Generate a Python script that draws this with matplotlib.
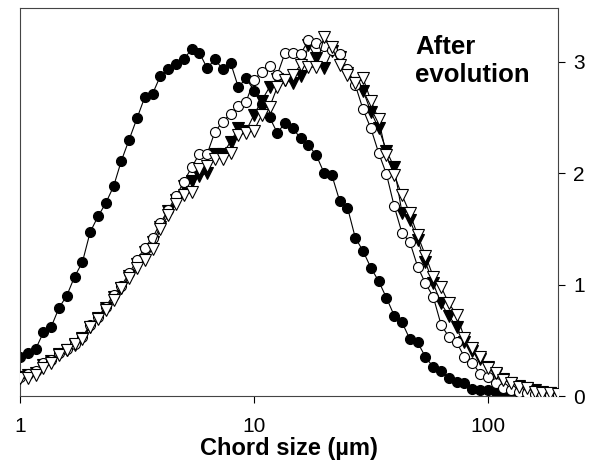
import numpy as np
import matplotlib
matplotlib.use("Agg")
import matplotlib.pyplot as plt

plt.rcParams['font.family'] = ['Liberation Sans', 'DejaVu Sans']

# chord size channels: 30 per decade starting at 1 um
chord_size = 10 ** (np.arange(70) / 30.0)

before_filled_circles = [
    0.35, 0.39, 0.42, 0.57, 0.62, 0.79, 0.90, 1.07, 1.20, 1.47,
    1.61, 1.73, 1.88, 2.11, 2.30, 2.49, 2.68, 2.71, 2.87, 2.93,
    2.98, 3.02, 3.11, 3.08, 2.94, 3.02, 2.93, 2.99, 2.77, 2.85,
    2.74, 2.62, 2.50, 2.36, 2.45, 2.40, 2.31, 2.25, 2.16, 2.00,
    1.98, 1.75, 1.69, 1.42, 1.30, 1.15, 1.03, 0.88, 0.72, 0.66,
    0.51, 0.48, 0.35, 0.26, 0.22, 0.16, 0.13, 0.12, 0.06, 0.05,
    0.05, 0.04, 0.03, 0.03, 0.02, 0.02, 0.01, 0.01, 0.01, 0.00,
]

open_circles = [
    0.17, 0.20, 0.22, 0.30, 0.32, 0.39, 0.42, 0.47, 0.53, 0.64,
    0.71, 0.80, 0.91, 0.99, 1.10, 1.22, 1.33, 1.42, 1.55, 1.67,
    1.79, 1.92, 2.05, 2.17, 2.17, 2.37, 2.46, 2.53, 2.60, 2.64,
    2.83, 2.91, 2.96, 2.88, 3.08, 3.08, 3.07, 3.19, 3.17, 3.14,
    3.10, 3.07, 2.93, 2.79, 2.57, 2.40, 2.18, 1.99, 1.70, 1.46,
    1.38, 1.16, 1.01, 0.89, 0.64, 0.53, 0.48, 0.35, 0.30, 0.20,
    0.17, 0.12, 0.07, 0.05, 0.04, 0.03, 0.02, 0.02, 0.01, 0.01,
]

filled_triangles = [
    0.17, 0.19, 0.21, 0.28, 0.31, 0.38, 0.41, 0.46, 0.52, 0.62,
    0.70, 0.79, 0.89, 0.97, 1.08, 1.18, 1.29, 1.38, 1.52, 1.66,
    1.76, 1.88, 1.93, 1.97, 2.00, 2.17, 2.17, 2.28, 2.40, 2.38,
    2.52, 2.65, 2.77, 2.84, 2.83, 2.81, 2.87, 3.15, 3.03, 2.94,
    3.09, 3.04, 2.90, 2.81, 2.74, 2.55, 2.40, 2.20, 2.05, 1.64,
    1.58, 1.40, 1.20, 1.01, 0.83, 0.72, 0.62, 0.48, 0.40, 0.33,
    0.26, 0.20, 0.15, 0.12, 0.09, 0.07, 0.05, 0.04, 0.03, 0.02,
]

open_triangles = [
    0.16, 0.16, 0.19, 0.25, 0.30, 0.37, 0.41, 0.47, 0.51, 0.62,
    0.69, 0.77, 0.86, 0.97, 1.06, 1.15, 1.22, 1.32, 1.50, 1.62,
    1.72, 1.80, 1.83, 2.04, 2.06, 2.13, 2.13, 2.18, 2.34, 2.36,
    2.38, 2.52, 2.59, 2.77, 2.83, 2.88, 2.97, 2.95, 2.95, 3.22,
    3.13, 2.97, 2.88, 2.81, 2.85, 2.65, 2.48, 2.16, 1.98, 1.80,
    1.64, 1.44, 1.26, 1.07, 0.98, 0.83, 0.73, 0.52, 0.43, 0.35,
    0.25, 0.21, 0.14, 0.12, 0.08, 0.07, 0.04, 0.03, 0.03, 0.02,
]

x_ticks = [1, 10, 100]
x_tick_labels = ['1', '10', '100']
y_ticks = [0, 1, 2, 3]

fig = plt.figure(figsize=(6.04, 4.73), dpi=100)
ax = fig.add_axes([20 / 604, 77 / 473, 538 / 604, 388 / 473])

lw = 0.8
ms = 7.2
ax.plot(chord_size, before_filled_circles, '-o', color='black', lw=lw,
        ms=ms, mfc='black', mec='black', mew=0.8, zorder=2)
ax.plot(chord_size, filled_triangles, '-v', color='black', lw=lw,
        ms=ms + 1.0, mfc='black', mec='black', mew=0.8, zorder=3)
ax.plot(chord_size, open_circles, '-o', color='black', lw=lw,
        ms=ms, mfc='white', mec='black', mew=0.8, zorder=4)
ax.plot(chord_size, open_triangles, '-v', color='black', lw=lw,
        ms=ms + 1.0, mfc='white', mec='black', mew=0.8, zorder=5)

ax.set_xscale('log')
ax.set_xlim(1, 10 ** 2.3)
ax.set_ylim(0, 3.48)
ax.set_xticks(x_ticks)
ax.set_xticklabels(x_tick_labels)
ax.xaxis.set_minor_locator(matplotlib.ticker.NullLocator())
ax.set_yticks(y_ticks)
ax.yaxis.tick_right()
ax.tick_params(axis='both', direction='out', length=5, width=0.8,
               labelsize=15, colors='black')
ax.tick_params(axis='y', pad=6)
ax.tick_params(axis='x', pad=10)

for s in ax.spines.values():
    s.set_linewidth(0.8)
    s.set_color('#444444')

ax.set_xlabel('Chord size (\u00b5m)', fontsize=17, fontweight='bold', labelpad=1)
ax.text(0.734, 0.93, 'After\nevolution', transform=ax.transAxes,
        fontsize=18.5, fontweight='bold', ha='left', va='top', linespacing=1.2)

fig.savefig('out.png', dpi=100)
